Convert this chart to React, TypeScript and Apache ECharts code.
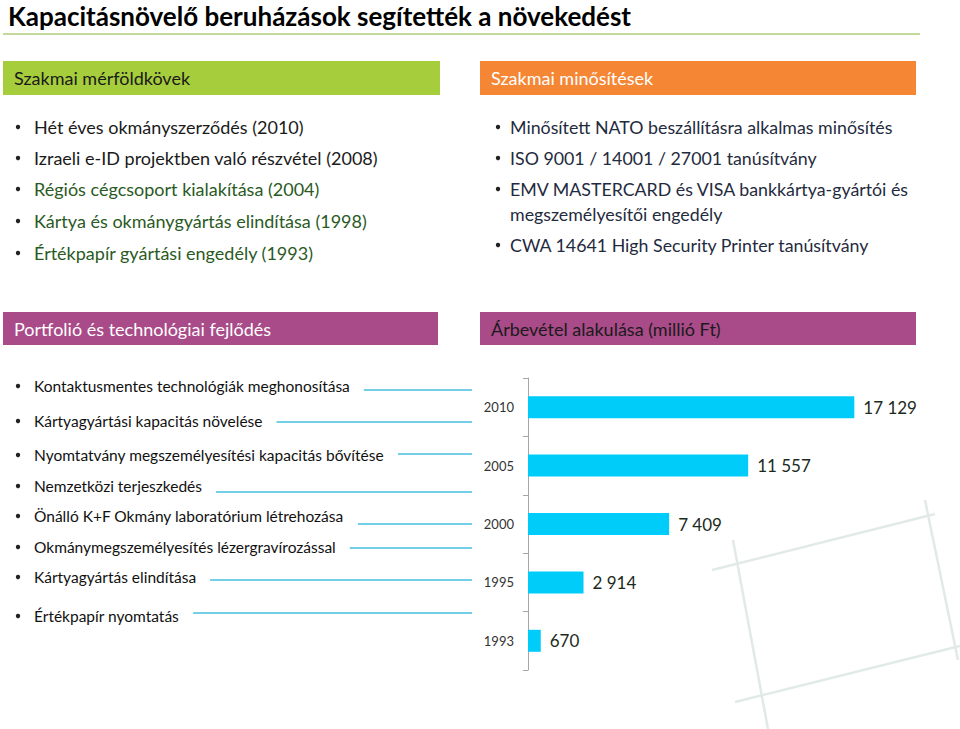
import React, { useEffect, useRef } from "react";
import * as echarts from "echarts";

const titleText = "Kapacitásnövelő beruházások segítették a növekedést";
const milestonesTitle = "Szakmai mérföldkövek";
const milestones = [
  "Hét éves okmányszerződés (2010)",
  "Izraeli e-ID projektben való részvétel (2008)",
  "Régiós cégcsoport kialakítása (2004)",
  "Kártya és okmánygyártás elindítása (1998)",
  "Értékpapír gyártási engedély (1993)",
];
const certTitle = "Szakmai minősítések";
const certifications = [
  ["Minősített NATO beszállításra alkalmas minősítés"],
  ["ISO 9001 / 14001 / 27001 tanúsítvány"],
  ["EMV MASTERCARD és VISA bankkártya-gyártói és", "megszemélyesítői engedély"],
  ["CWA 14641 High Security Printer tanúsítvány"],
];
const portfolioTitle = "Portfolió és technológiai fejlődés";
const portfolio = [
  "Kontaktusmentes technológiák meghonosítása",
  "Kártyagyártási kapacitás növelése",
  "Nyomtatvány megszemélyesítési kapacitás bővítése",
  "Nemzetközi terjeszkedés",
  "Önálló K+F Okmány laboratórium létrehozása",
  "Okmánymegszemélyesítés lézergravírozással",
  "Kártyagyártás elindítása",
  "Értékpapír nyomtatás",
];
const revenueTitle = "Árbevétel alakulása (millió Ft)";
const years = ["2010", "2005", "2000", "1995", "1993"];
const revenue = [17129, 11557, 7409, 2914, 670];

const FONT = "Lato, 'Open Sans', sans-serif";

function measure(text: string, font: string): number {
  const c = document.createElement("canvas");
  const ctx = c.getContext("2d")!;
  ctx.font = font;
  return ctx.measureText(text).width;
}

export default function App() {
  const ref = useRef<HTMLDivElement>(null);
  useEffect(() => {
    document.body.style.margin = "0";
    const chart = echarts.init(ref.current!, null, { renderer: "svg" });
    const g: any[] = [];

    // Title
    g.push({
      type: "text", x: 8, y: 16,
      style: { text: titleText, font: `bold 26px ${FONT}`, fill: "#000", verticalAlign: "middle" },
    });
    g.push({ type: "line", shape: { x1: 3, y1: 34, x2: 920, y2: 34 }, style: { stroke: "#c3d99a", lineWidth: 2 } });

    // Section headers
    const header = (x: number, y: number, w: number, h: number, color: string, text: string, tc: string) => {
      g.push({ type: "rect", shape: { x, y, width: w, height: h }, style: { fill: color } });
      g.push({
        type: "text", x: x + 11, y: y + h / 2,
        style: { text, font: `18px ${FONT}`, fill: tc, verticalAlign: "middle" },
      });
    };
    header(3, 61, 437, 34, "#a6cd3b", milestonesTitle, "#1a1a1a");
    header(480, 61, 436, 34, "#f58634", certTitle, "#ffffff");
    header(3, 312, 435, 33, "#a94a89", portfolioTitle, "#ffffff");
    header(480, 312, 436, 33, "#a94a89", revenueTitle, "#1a1a1a");

    const bullet = (x: number, y: number) =>
      g.push({ type: "circle", shape: { cx: x, cy: y, r: 2.2 }, style: { fill: "#222" } });

    // Milestones
    const msY = [127, 158, 189, 221, 253];
    milestones.forEach((t, i) => {
      bullet(18, msY[i]);
      g.push({
        type: "text", x: 34, y: msY[i],
        style: { text: t, font: `18px ${FONT}`, fill: i < 2 ? "#1a1a1a" : "#2a5a1f", verticalAlign: "middle" },
      });
    });

    // Certifications
    const certY = [127, 158, 189, 245];
    certifications.forEach((lines, i) => {
      bullet(498, certY[i]);
      lines.forEach((t, j) => {
        g.push({
          type: "text", x: 510, y: certY[i] + j * 25,
          style: { text: t, font: `17.8px ${FONT}`, fill: "#1f2b3e", verticalAlign: "middle" },
        });
      });
    });

    // Portfolio with connector lines
    const pY = [386, 421, 455, 486, 516, 547, 577, 616];
    const lineY = [390, 422, 454, 492, 524, 548, 580, 613];
    const pFont = `15.5px ${FONT}`;
    portfolio.forEach((t, i) => {
      bullet(18, pY[i]);
      g.push({
        type: "text", x: 34, y: pY[i],
        style: { text: t, font: pFont, fill: "#111", verticalAlign: "middle" },
      });
      const w = measure(t, pFont);
      g.push({
        type: "line",
        shape: { x1: 34 + w + 14, y1: lineY[i], x2: 472, y2: lineY[i] },
        style: { stroke: "#45bfdc", lineWidth: 1.5 },
      });
    });

    // Faint watermark sketch
    const wm = { stroke: "#e2eae8", lineWidth: 2.5 };
    g.push({ type: "line", shape: { x1: 712, y1: 570, x2: 935, y2: 514 }, style: wm });
    g.push({ type: "line", shape: { x1: 733, y1: 540, x2: 768, y2: 729 }, style: wm });
    g.push({ type: "line", shape: { x1: 735, y1: 702, x2: 960, y2: 646 }, style: wm });
    g.push({ type: "line", shape: { x1: 925, y1: 500, x2: 958, y2: 660 }, style: wm });

    chart.setOption({
      animation: false,
      backgroundColor: "#ffffff",
      grid: { left: 528, top: 378, width: 381, height: 292 },
      xAxis: { type: "value", min: 0, max: 20000, show: false },
      yAxis: {
        type: "category",
        data: years,
        inverse: true,
        axisLine: { show: true, lineStyle: { color: "#a6a6a6", width: 1 } },
        axisTick: { show: true, length: 5, lineStyle: { color: "#a6a6a6" } },
        axisLabel: { color: "#333", fontSize: 13, fontFamily: FONT, margin: 14 },
        splitLine: { show: false },
      },
      series: [
        {
          type: "bar",
          data: revenue,
          barWidth: 22,
          itemStyle: { color: "#00ccfa" },
          label: {
            show: true,
            position: "right",
            distance: 9,
            fontSize: 17,
            fontFamily: FONT,
            color: "#1c2a1c",
            formatter: (p: any) => String(p.value).replace(/\B(?=(\d{3})+(?!\d))/g, " "),
          },
        },
      ],
      graphic: { elements: g },
    });
    return () => chart.dispose();
  }, []);
  return <div ref={ref} style={{ position: "absolute", left: 0, top: 0, width: 960, height: 729 }} />;
}
